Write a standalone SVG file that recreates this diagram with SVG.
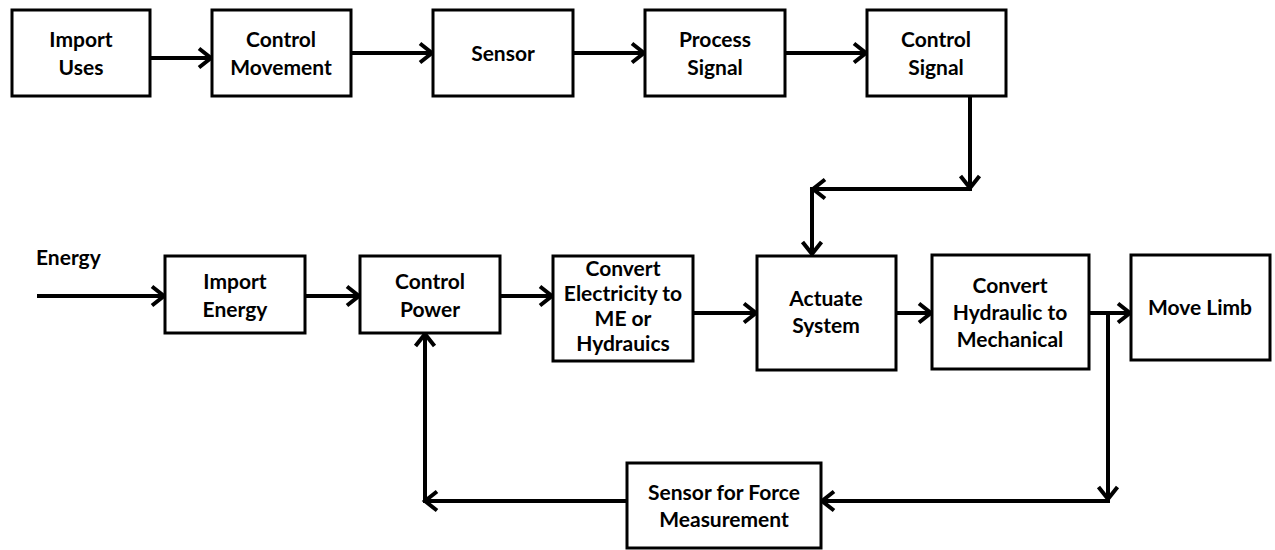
<svg xmlns="http://www.w3.org/2000/svg" width="1275" height="550" viewBox="0 0 1275 550">
  <style>
    .box { fill: #ffffff; stroke: #000000; stroke-width: 3; }
    .lbl { font-family: Lato, "Open Sans", "Liberation Sans", sans-serif; font-weight: bold; font-size: 21px; fill: #000000; text-anchor: middle; }
    .free { text-anchor: start; }
    .wire { fill: none; stroke: #000000; stroke-width: 4; marker-end: url(#chev); }
  </style>
  <defs>
    <marker id="chev" markerUnits="userSpaceOnUse" markerWidth="20" markerHeight="24" refX="0" refY="0" orient="auto" overflow="visible">
      <path d="M-12,-9.5 L0,0 L-12,9.5" fill="none" stroke="#000000" stroke-width="4" stroke-linejoin="miter"/>
    </marker>
  </defs>
  <rect width="1275" height="550" fill="#ffffff"/>

  <!-- connectors -->
  <g id="connectors">
    <path class="wire" d="M150,58 H211"/>
    <path class="wire" d="M351,53 H432"/>
    <path class="wire" d="M573,53 H644"/>
    <path class="wire" d="M785,53 H866"/>
    <path class="wire" d="M970,96 V188"/>
    <path class="wire" d="M972,189 H813"/>
    <path class="wire" d="M812,187 V254"/>
    <path class="wire" d="M37,296 H164"/>
    <path class="wire" d="M305,296 H359"/>
    <path class="wire" d="M500,296 H552"/>
    <path class="wire" d="M693,313 H756"/>
    <path class="wire" d="M896,313 H931"/>
    <path class="wire" d="M1089,313 H1130"/>
    <path class="wire" d="M1108,311 V499"/>
    <path class="wire" d="M1110,501 H822"/>
    <path class="wire" d="M627,501 H425"/>
    <path class="wire" d="M425,503 V334"/>
  </g>

  <!-- top row -->
  <g id="import-uses">
    <rect class="box" x="12" y="10" width="138" height="86"/>
    <text class="lbl" x="81" y="47">Import</text>
    <text class="lbl" x="81" y="75">Uses</text>
  </g>
  <g id="control-movement">
    <rect class="box" x="212" y="10" width="139" height="86"/>
    <text class="lbl" x="281" y="47">Control</text>
    <text class="lbl" x="281" y="75">Movement</text>
  </g>
  <g id="sensor">
    <rect class="box" x="433" y="10" width="140" height="86"/>
    <text class="lbl" x="503" y="61">Sensor</text>
  </g>
  <g id="process-signal">
    <rect class="box" x="645" y="10" width="140" height="86"/>
    <text class="lbl" x="715" y="47">Process</text>
    <text class="lbl" x="715" y="75">Signal</text>
  </g>
  <g id="control-signal">
    <rect class="box" x="867" y="10" width="139" height="86"/>
    <text class="lbl" x="936" y="47">Control</text>
    <text class="lbl" x="936" y="75">Signal</text>
  </g>

  <!-- energy input label -->
  <g id="energy-label">
    <text class="lbl free" x="36" y="265">Energy</text>
  </g>

  <!-- bottom row -->
  <g id="import-energy">
    <rect class="box" x="165" y="256" width="140" height="77"/>
    <text class="lbl" x="235" y="289">Import</text>
    <text class="lbl" x="235" y="317">Energy</text>
  </g>
  <g id="control-power">
    <rect class="box" x="360" y="256" width="140" height="77"/>
    <text class="lbl" x="430" y="289">Control</text>
    <text class="lbl" x="430" y="317">Power</text>
  </g>
  <g id="convert-electricity">
    <rect class="box" x="553" y="256" width="140" height="105"/>
    <text class="lbl" x="623" y="276">Convert</text>
    <text class="lbl" x="623" y="301">Electricity to</text>
    <text class="lbl" x="623" y="326">ME or</text>
    <text class="lbl" x="623" y="351">Hydrauics</text>
  </g>
  <g id="actuate-system">
    <rect class="box" x="757" y="256" width="139" height="114"/>
    <text class="lbl" x="826" y="306">Actuate</text>
    <text class="lbl" x="826" y="333">System</text>
  </g>
  <g id="convert-hydraulic">
    <rect class="box" x="932" y="255" width="157" height="114"/>
    <text class="lbl" x="1010" y="293">Convert</text>
    <text class="lbl" x="1010" y="320">Hydraulic to</text>
    <text class="lbl" x="1010" y="347">Mechanical</text>
  </g>
  <g id="move-limb">
    <rect class="box" x="1131" y="255" width="139" height="105"/>
    <text class="lbl" x="1200" y="315">Move Limb</text>
  </g>
  <g id="sensor-force">
    <rect class="box" x="627" y="463" width="194" height="85"/>
    <text class="lbl" x="724" y="500">Sensor for Force</text>
    <text class="lbl" x="724" y="527">Measurement</text>
  </g>
</svg>
